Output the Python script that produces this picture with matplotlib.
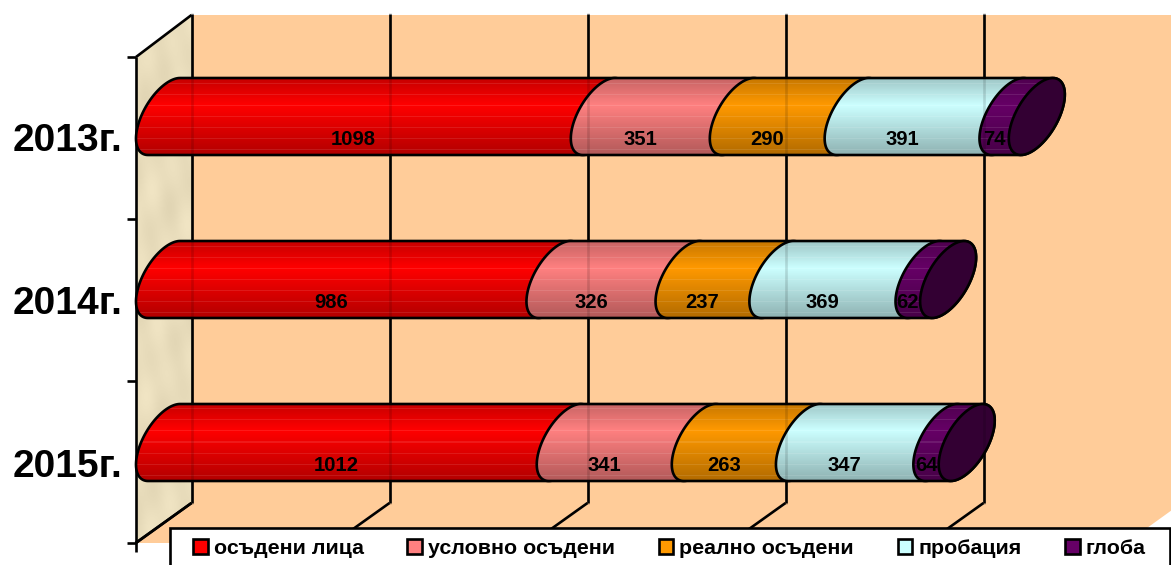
# -*- coding: utf-8 -*-
import numpy as np
import matplotlib
matplotlib.use('Agg')
import matplotlib.pyplot as plt
from matplotlib.colors import to_rgb
from matplotlib.patches import Polygon, Patch, Rectangle
from matplotlib.transforms import Affine2D

plt.rcParams['font.family'] = ['Liberation Sans', 'DejaVu Sans']
plt.rcParams['font.weight'] = 'bold'

# данни
years = ['2013г.', '2014г.', '2015г.']
osadeni = [1098, 986, 1012]
uslovno = [351, 326, 341]
realno = [290, 237, 263]
probacia = [391, 369, 347]
globa = [74, 62, 64]

names = ['осъдени лица', 'условно осъдени', 'реално осъдени', 'пробация', 'глоба']
series = [osadeni, uslovno, realno, probacia, globa]
colors = ['#FF0000', '#FF8080', '#FF9900', '#CCFFFF', '#660066']
cap_color = '#330033'
grid_ticks = [0, 500, 1000, 1500, 2000, 2500]

W, H = 1171, 565
PX = 0.396        # пиксела за единица
X0 = 136          # ляв край на цилиндъра
Y0 = 116.5        # център на първия цилиндър
ROW = 163         # стъпка между редовете

fig = plt.figure(figsize=(W / 100, H / 100), dpi=100)
ax = fig.add_axes([0, 0, 1, 1])
ax.set_xlim(-X0 / PX, (W - X0) / PX)
ax.set_ylim((H - Y0) / ROW, -Y0 / ROW)
ax.axis('off')

# пикселни координати за рамката на диаграмата
tp = Affine2D().scale(1, -1).translate(0, H)

# елипса на края на цилиндъра, в единици на данните
EA, ES = 23 / PX, 16 / PX
EH = 38.5 / ROW
ER = np.hypot(EA, ES)


def ell(c, i, a, b):
    t = np.radians(np.linspace(a, b, 60))
    return np.c_[c + EA * np.cos(t) + ES * np.sin(t), i - EH * np.sin(t)]


# задна стена и под
ax.add_patch(Polygon([(192, 15), (W + 1, 15), (W + 1, 510), (1147, 528), (1147, 543),
                      (136, 543), (192, 503)],
                     fc='#FFCC99', ec='none', transform=tp, zorder=1))

# странична стена с лека текстура
gx, gy = np.meshgrid(np.linspace(0, 1, 60), np.linspace(0, 9, 540))
noise = (np.sin(gx * 7 + gy * 2.1) + np.sin(gx * 13 - gy * 3.3 + 1.2)
         + np.sin(gx * 5 + gy * 5.7 + 2.1)) / 3
wall = np.clip(np.array(to_rgb('#E9DDBC'))[None, None, :] + noise[..., None] * 0.03, 0, 1)
wall_im = ax.imshow(wall, extent=(136, 192, 560, 10), transform=tp, aspect='auto', zorder=1.1,
                    interpolation='bilinear')
wall_poly = Polygon([(136, 57), (192, 15), (192, 503), (136, 543)], fc='none', ec='none', transform=tp)
ax.add_patch(wall_poly)
wall_im.set_clip_path(wall_poly)

# линии на рамката
line = dict(color='black', lw=1.9, transform=tp, zorder=2, solid_capstyle='butt')
ax.plot([136, 136], [57, 552], **line)
ax.plot([136, 191.5], [57, 15], **line)
ax.plot([136, 191.5], [543, 503], **line)
for ty in [57, 219, 381, 543]:
    ax.plot([127, 136], [ty, ty], **line)
for v in grid_ticks:
    gp = X0 + 55.5 + v * PX
    if gp < W:
        ax.plot([gp, gp], [14, 503], **line)
        ax.plot([gp, gp - 56], [503, 543], **line)
        ax.plot([gp, gp], [14, 503], color='black', lw=1.9, alpha=0.13, transform=tp, zorder=6)

# цилиндрите
rows = 77
pos = np.linspace(0, 1, rows)
shade = np.interp(pos, [0, 0.35, 1], [0.78, 1.0, 0.70])
for i, year in enumerate(years):
    left = 0
    for k, vals in enumerate(series):
        v = vals[i]
        c0 = left + ER
        c1 = left + v + ER
        pts = np.r_[ell(c0, i, 90, 270), ell(c1, i, 270, 450)]
        poly = Polygon(pts, closed=True, fc='none', ec='black', lw=1.9, zorder=3 + k * 0.1 + 0.05, joinstyle='round')
        ax.add_patch(poly)
        grad = np.array(to_rgb(colors[k]))[None, None, :] * shade[:, None, None]
        grad[5::11] = grad[5::11] * 0.9 + 0.1
        ext = (left - 5, left + v + 2 * ER + 2 * ES + 5, i + EH, i - EH)
        im = ax.imshow(grad, extent=ext, aspect='auto', zorder=3 + k * 0.1, interpolation='nearest')
        im.set_clip_path(poly)
        if k == len(series) - 1:
            ax.add_patch(Polygon(ell(c1, i, 0, 360), closed=True, fc=cap_color, ec='black', lw=1.9, zorder=3.6))
        ax.text(left + v / 2, i + 0.139, str(v), ha='center', va='center', fontsize=14.6, color='black', zorder=7)
        left += v
    ax.text((122 - X0) / PX, i + 0.15, year, ha='right', va='center', fontsize=28, color='black', zorder=7)

ax.set_xlim(-X0 / PX, (W - X0) / PX)
ax.set_ylim((H - Y0) / ROW, -Y0 / ROW)

# легенда
ax.add_patch(Rectangle((169.5, 528), 1000.5, 50, fc='white', ec='black', lw=1.9, transform=tp, zorder=8))
handles = [Patch(fc=c, ec='black', lw=1.9) for c in colors]
leg = ax.legend(handles, names, ncols=5, loc='center left', frameon=False, fontsize=15.4,
                bbox_to_anchor=(193 / W, 1 - 548.5 / H), bbox_transform=fig.transFigure,
                borderpad=0, borderaxespad=0, handlelength=0.68, handleheight=0.68,
                handletextpad=0.28, columnspacing=2.05)
leg.set_zorder(9)

fig.savefig('out.png', dpi=100)
